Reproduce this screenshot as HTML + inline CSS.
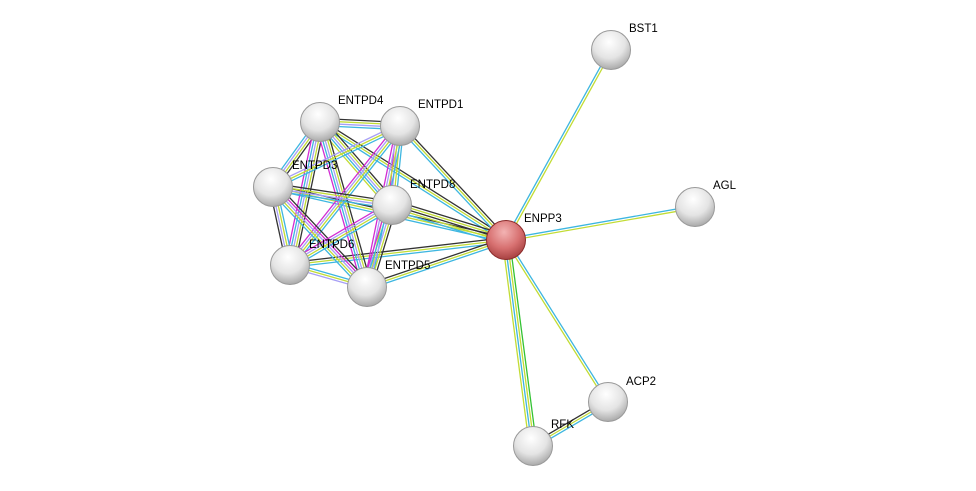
<!DOCTYPE html>
<html><head><meta charset="utf-8"><style>
html,body{margin:0;padding:0;background:#fff;}
svg{display:block}
text{font-family:"Liberation Sans",sans-serif;font-size:11.5px;fill:#000}
</style></head><body>
<svg id="s" width="976" height="491" viewBox="0 0 976 491" xmlns="http://www.w3.org/2000/svg">
<defs>
<radialGradient id="g" cx="0.45" cy="0.3" r="0.75">
<stop offset="0" stop-color="#ffffff"/><stop offset="0.55" stop-color="#e4e4e4"/><stop offset="1" stop-color="#a0a0a0"/></radialGradient>
<radialGradient id="r" cx="0.45" cy="0.3" r="0.75">
<stop offset="0" stop-color="#f3b3b3"/><stop offset="0.55" stop-color="#d77070"/><stop offset="1" stop-color="#a03a3a"/></radialGradient>
</defs>
<g id="edges"></g>
<g id="nodes"></g>
</svg>
<script>
var N={BST1:[611,50],ENTPD4:[320,122],ENTPD1:[400,126],ENTPD3:[273,187],ENTPD8:[392,205],AGL:[695,207],ENPP3:[506,240],ENTPD6:[290,265],ENTPD5:[367,287],ACP2:[608,402],RFK:[533,446]};
var C={c:"#3db6e0",y:"#c2dc34",k:"#333",p:"#a79ff5",m:"#d22cd2",g:"#33c233"};
var E=[
["ENPP3","BST1","cy"],["ENPP3","AGL","cy"],["ENPP3","ACP2","cy"],["ENPP3","RFK","gycy"],["RFK","ACP2","kyc"],
["ENPP3","ENTPD4","cyk"],["ENPP3","ENTPD1","cyk"],["ENPP3","ENTPD3","cyk"],["ENPP3","ENTPD8","cykyk"],["ENPP3","ENTPD6","cyk"],["ENPP3","ENTPD5","cyk"],
["ENTPD4","ENTPD1","kypc"],["ENTPD4","ENTPD3","kypc"],["ENTPD4","ENTPD8","kypcy"],["ENTPD4","ENTPD6","kypcm"],["ENTPD4","ENTPD5","kypcm"],
["ENTPD1","ENTPD3","cyp"],["ENTPD1","ENTPD8","cypm"],["ENTPD1","ENTPD6","cypm"],["ENTPD1","ENTPD5","cypm"],
["ENTPD3","ENTPD8","kypc"],["ENTPD3","ENTPD6","cypk"],["ENTPD3","ENTPD5","kmpyc"],
["ENTPD8","ENTPD6","cypm"],["ENTPD8","ENTPD5","kypcm"],["ENTPD6","ENTPD5","cyp"]];
var ns="http://www.w3.org/2000/svg",eg=document.getElementById("edges"),ng=document.getElementById("nodes");
E.forEach(function(e){var a=N[e[0]],b=N[e[1]],dx=b[0]-a[0],dy=b[1]-a[1],L=Math.hypot(dx,dy),px=-dy/L,py=dx/L,n=e[2].length;
for(var i=0;i<n;i++){var o=(i-(n-1)/2)*2.4,l=document.createElementNS(ns,"line");
l.setAttribute("x1",a[0]+px*o);l.setAttribute("y1",a[1]+py*o);l.setAttribute("x2",b[0]+px*o);l.setAttribute("y2",b[1]+py*o);
l.setAttribute("stroke",C[e[2][i]]);l.setAttribute("stroke-width","1.3");eg.appendChild(l);}});
var lab={BST1:[629,32],ENTPD4:[338,104],ENTPD1:[418,108],ENTPD3:[292,169],ENTPD8:[410,188],AGL:[713,189],ENPP3:[524,222],ENTPD6:[309,248],ENTPD5:[385,269],ACP2:[626,385],RFK:[551,428]};
for(var k in N){var p=N[k],c=document.createElementNS(ns,"circle");c.setAttribute("cx",p[0]);c.setAttribute("cy",p[1]);c.setAttribute("r",19.5);
c.setAttribute("fill",k=="ENPP3"?"url(#r)":"url(#g)");c.setAttribute("stroke",k=="ENPP3"?"#8a2a2a":"#999");c.setAttribute("stroke-width","1");ng.appendChild(c);
var t=document.createElementNS(ns,"text");t.setAttribute("x",lab[k][0]);t.setAttribute("y",lab[k][1]);t.textContent=k;ng.appendChild(t);}
</script>
</body></html>
